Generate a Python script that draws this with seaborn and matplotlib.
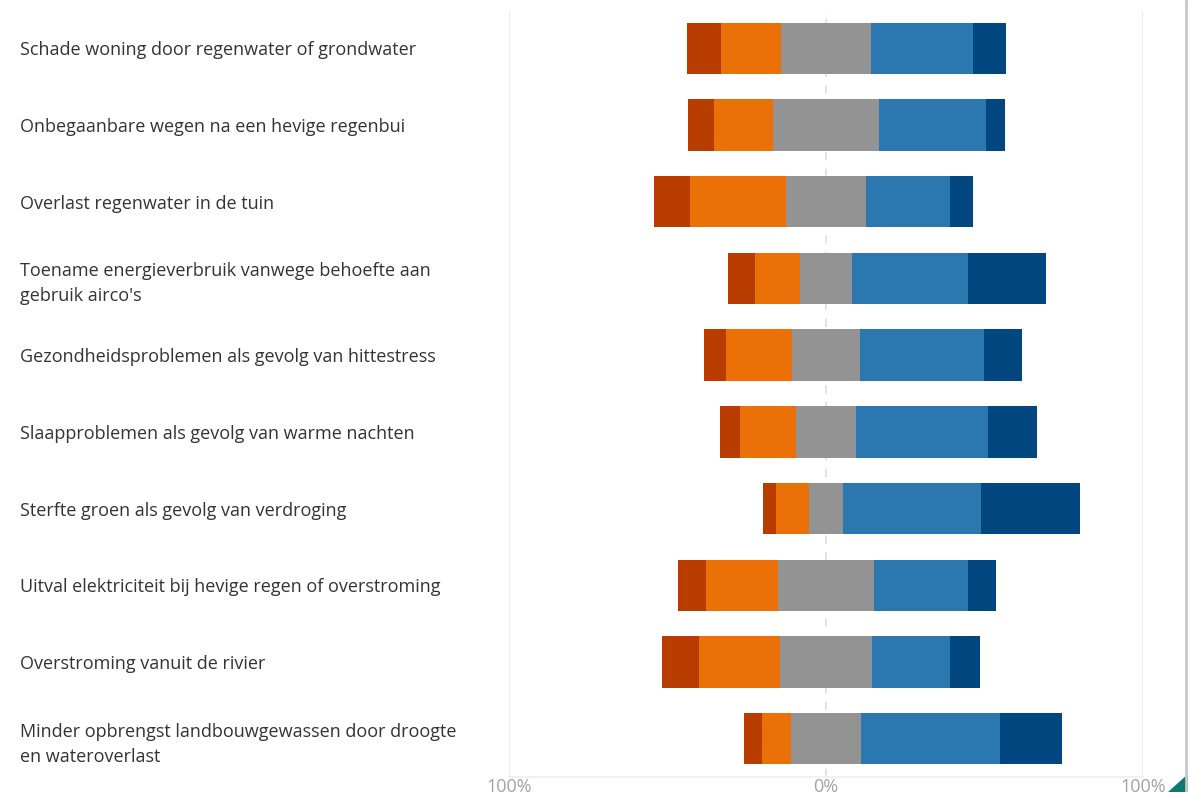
import numpy as np
import pandas as pd
import matplotlib.pyplot as plt
import seaborn as sns
from matplotlib.patches import Polygon
from matplotlib.lines import Line2D

# survey items, top to bottom
items = [
    "Schade woning door regenwater of grondwater",
    "Onbegaanbare wegen na een hevige regenbui",
    "Overlast regenwater in de tuin",
    "Toename energieverbruik vanwege behoefte aan\ngebruik airco's",
    "Gezondheidsproblemen als gevolg van hittestress",
    "Slaapproblemen als gevolg van warme nachten",
    "Sterfte groen als gevolg van verdroging",
    "Uitval elektriciteit bij hevige regen of overstroming",
    "Overstroming vanuit de rivier",
    "Minder opbrengst landbouwgewassen door droogte\nen wateroverlast",
]

# shares in % (left to right in each bar)
very_low = [10.7, 8.2, 11.4, 8.8, 6.9, 6.3, 4.1, 8.8, 11.7, 5.7]
low = [19.2, 18.6, 30.3, 14.2, 20.8, 17.7, 10.4, 22.7, 25.6, 9.1]
neutral = [28.1, 33.4, 25.2, 16.1, 21.5, 18.9, 11.0, 30.3, 29.0, 22.1]
high = [32.2, 33.8, 26.5, 36.6, 39.1, 41.6, 43.5, 29.7, 24.6, 43.8]
very_high = [10.4, 6.0, 7.3, 24.6, 12.0, 15.5, 31.2, 8.8, 9.5, 19.6]

colors = ["#b83b00", "#ea7007", "#939393", "#2b78b0", "#02477f"]

df = pd.DataFrame({"item": items, "vl": very_low, "l": low, "n": neutral,
                   "h": high, "vh": very_high})
# bar end points, neutral centred on 0
df["n_left"] = -df["n"] / 2
df["l_left"] = df["n_left"] - df["l"]
df["vl_left"] = df["l_left"] - df["vl"]
df["n_right"] = df["n"] / 2
df["h_right"] = df["n_right"] + df["h"]
df["vh_right"] = df["h_right"] + df["vh"]

sns.set_theme(style="white")
plt.rcParams["font.family"] = ["Open Sans", "DejaVu Sans"]

fig = plt.figure(figsize=(11.88, 7.92), dpi=100)
ax = fig.add_axes([509 / 1188, 15 / 792, 634 / 1188, 767 / 792])

# overlay bars from 0 outwards, outermost first
layers = [("vl_left", colors[0]), ("l_left", colors[1]), ("n_left", colors[2]),
          ("vh_right", colors[4]), ("h_right", colors[3]), ("n_right", colors[2])]
for col, c in layers:
    sns.barplot(data=df, x=col, y="item", orient="h", color=c, saturation=1,
                width=0.67, linewidth=0, ax=ax, zorder=3)

ax.set_xlim(-100, 100)
ax.set_ylim(9.5, -0.5)
ax.set_xticks([-100, 0, 100])
ax.set_xticklabels(["100%", "0%", "100%"], color="#a3a3a3", fontsize=13)
ax.axvline(-100, color="#ececec", lw=1.2, zorder=1)
ax.axvline(100, color="#ececec", lw=1.2, zorder=1)
ax.axvline(0, color="#dedede", lw=1.2, ls=(0, (5, 5)), zorder=1)
ax.set_xlabel("")
ax.set_ylabel("")

for s in ["top", "right", "left"]:
    ax.spines[s].set_visible(False)
ax.spines["bottom"].set_color("#efefef")
ax.tick_params(axis="x", length=0, pad=1)
ax.tick_params(axis="y", length=0, pad=489 * 72 / 100)
for t in ax.get_yticklabels():
    t.set_ha("left")
    t.set_color("#333333")
    t.set_fontsize(13)
    t.set_linespacing(1.5)

# frame edge and corner mark of the original screenshot
fig.add_artist(Line2D([1186 / 1188, 1186 / 1188], [0, 1], color="#c8c8c8", lw=2))
fig.add_artist(Polygon([[1168 / 1188, 0], [1, 0], [1, 18 / 792]], closed=True,
                       color="#0b7a75", transform=fig.transFigure))

fig.savefig("out.png", dpi=100)
